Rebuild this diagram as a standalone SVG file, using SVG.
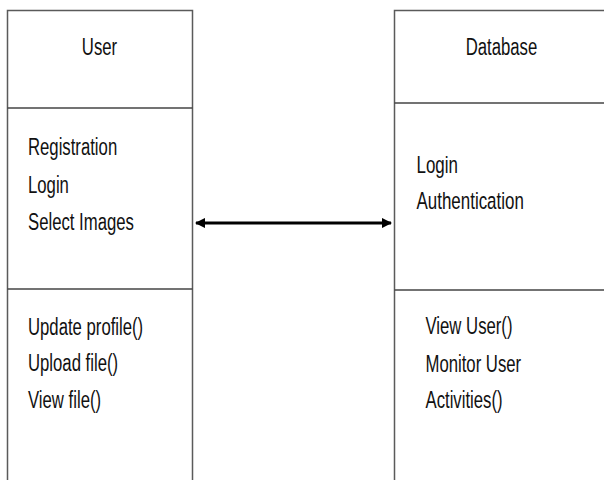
<svg xmlns="http://www.w3.org/2000/svg" width="604" height="480" viewBox="0 0 604 480">
<defs>
<style>
.box{fill:#ffffff;stroke:#5a5a5a;stroke-width:1.5}
.div{stroke:#444;stroke-width:1.6}
.t{font-family:"Liberation Sans",Arial,sans-serif;font-size:22px;fill:#111}
.conn{stroke:#000;stroke-width:3;fill:none}
</style>
<marker id="ah" viewBox="0 0 10 10" refX="9" refY="5" markerWidth="3.5" markerHeight="3.5" orient="auto-start-reverse" markerUnits="strokeWidth">
<path d="M0,0 L10,5 L0,10 z" fill="#000"/>
</marker>
</defs>
<rect width="604" height="480" fill="#ffffff"/>
<g id="user">
<path class="box" d="M7.5,482 L7.5,10.5 L192.5,10.5 L192.5,482"/>
<line class="div" x1="7.5" y1="108" x2="192.5" y2="108"/>
<line class="div" x1="7.5" y1="289" x2="192.5" y2="289"/>
<text class="t" transform="translate(99.5,55) scale(0.76,1.07)" text-anchor="middle">User</text>
<text class="t" transform="translate(28,155) scale(0.76,1.07)">Registration</text>
<text class="t" transform="translate(28,193) scale(0.76,1.07)">Login</text>
<text class="t" transform="translate(28,230) scale(0.76,1.07)">Select Images</text>
<text class="t" transform="translate(28,335) scale(0.76,1.07)">Update profile()</text>
<text class="t" transform="translate(28,371) scale(0.76,1.07)">Upload file()</text>
<text class="t" transform="translate(28,408) scale(0.76,1.07)">View file()</text>
</g>
<g id="database">
<path class="box" d="M394.5,482 L394.5,10.5 L606,10.5 L606,482"/>
<line class="div" x1="394.5" y1="103" x2="606" y2="103"/>
<line class="div" x1="394.5" y1="290" x2="606" y2="290"/>
<text class="t" transform="translate(501.5,55) scale(0.76,1.07)" text-anchor="middle">Database</text>
<text class="t" transform="translate(416.5,173) scale(0.77,1.07)">Login</text>
<text class="t" transform="translate(416.5,209) scale(0.77,1.07)">Authentication</text>
<text class="t" transform="translate(425.5,334) scale(0.76,1.07)">View User()</text>
<text class="t" transform="translate(425.5,372) scale(0.76,1.07)">Monitor User</text>
<text class="t" transform="translate(425.5,408) scale(0.76,1.07)">Activities()</text>
</g>
<g id="connectors">
<line class="conn" x1="196" y1="223" x2="391" y2="223" marker-start="url(#ah)" marker-end="url(#ah)"/>
</g>
</svg>
